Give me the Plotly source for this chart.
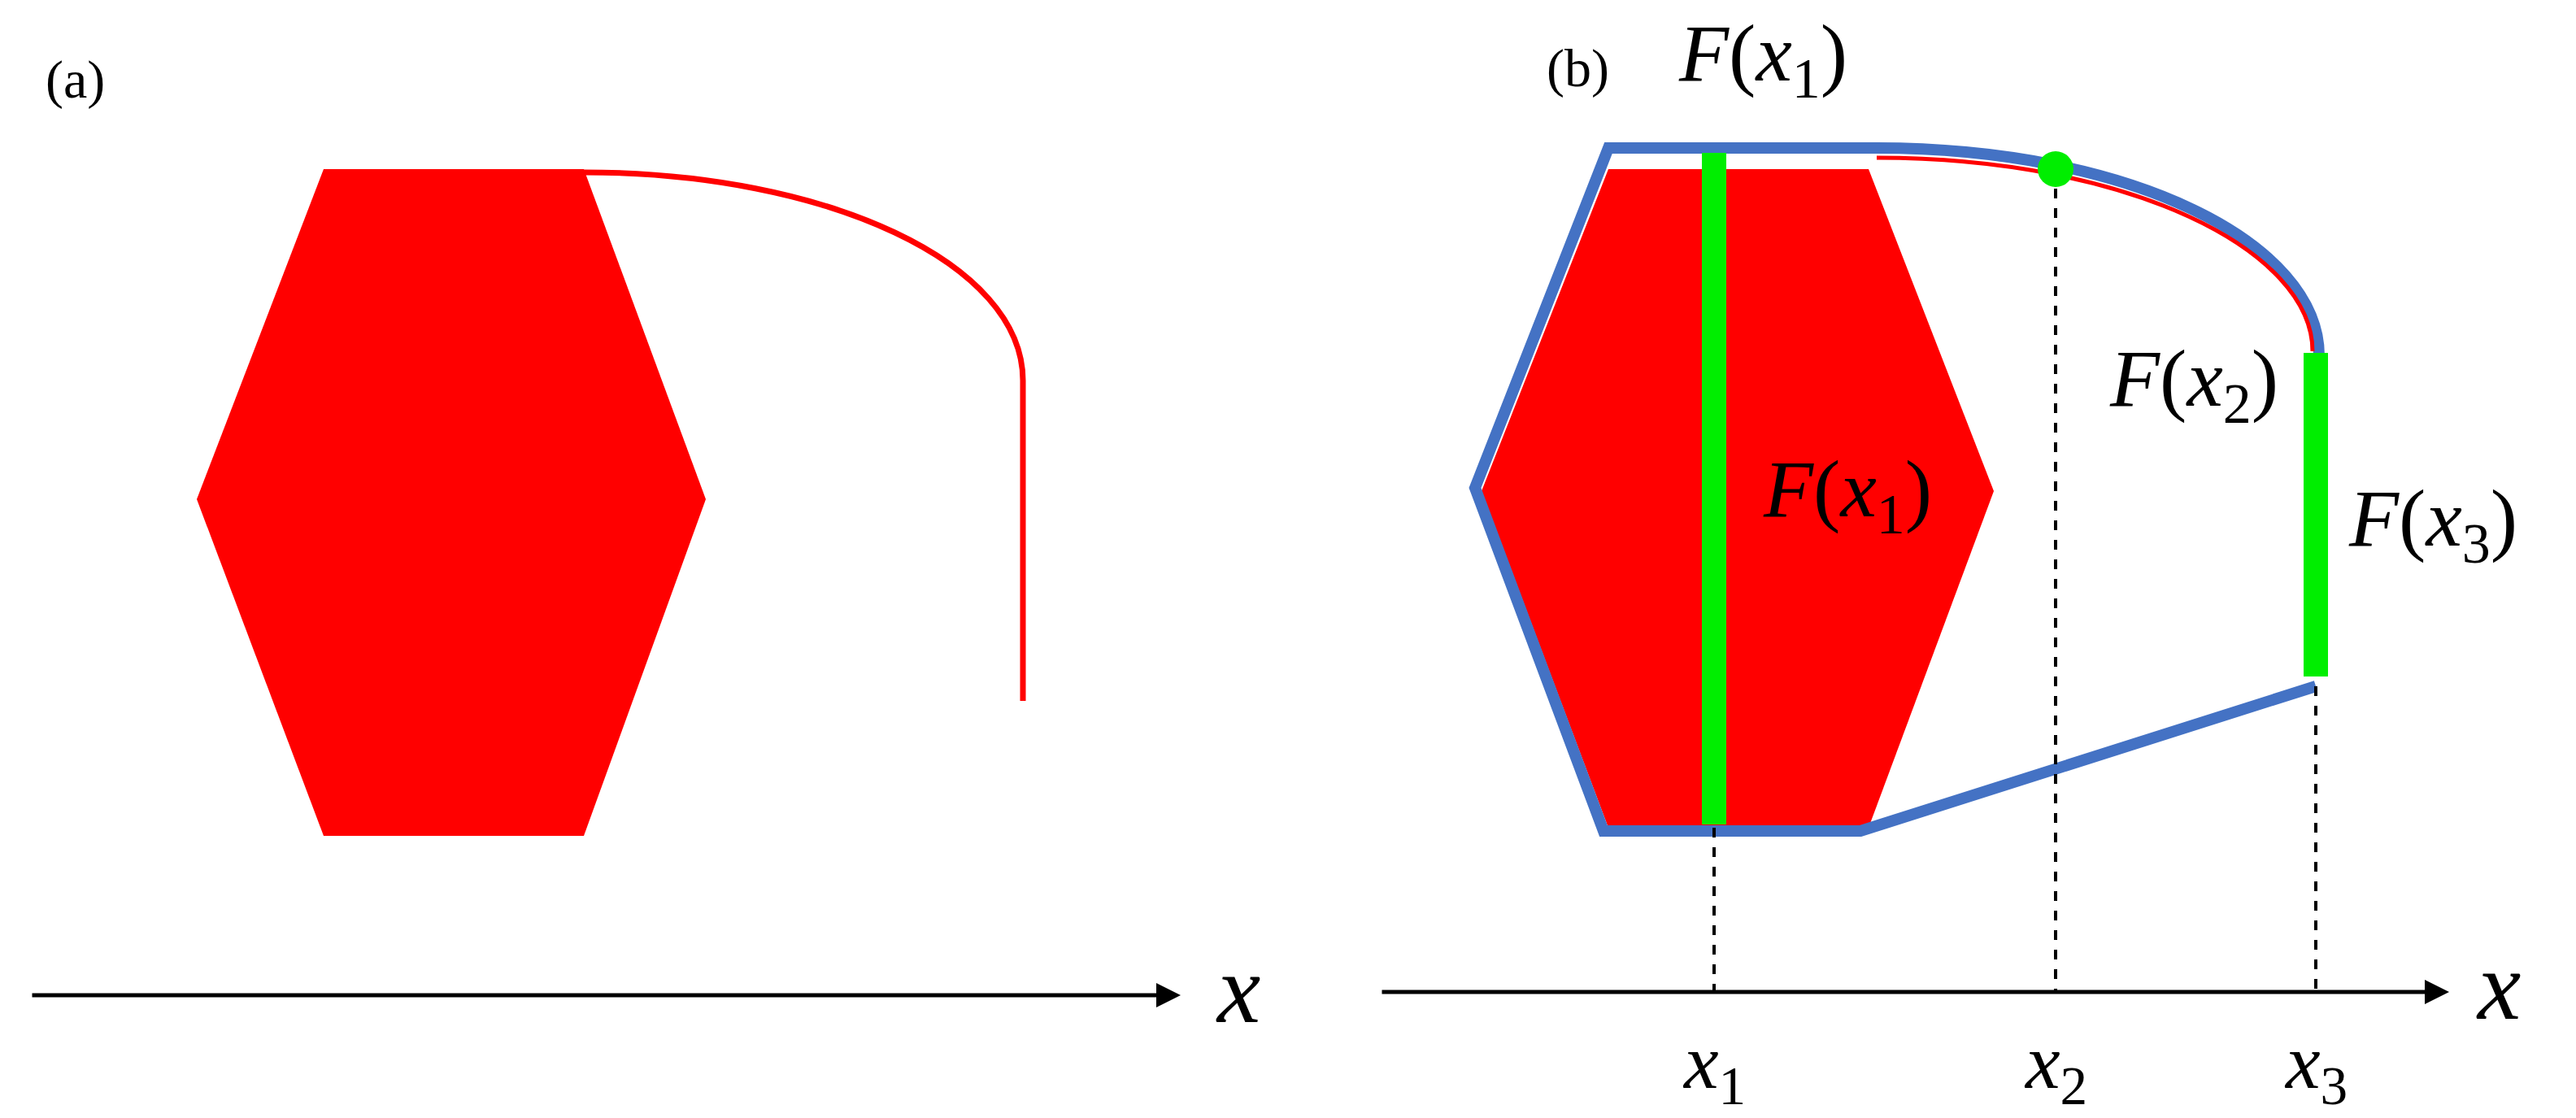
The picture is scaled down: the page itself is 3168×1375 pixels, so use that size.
import plotly.graph_objects as go

W, H = 3168, 1375
# panel (a)
hex_a_x = [195, 355, 430, 355, 195, 117, 195]
hex_a_y = [100, 100, 303, 510, 510, 303, 100]
curve_a = "M 355,102 C 505,102 625,158 625,230 L 625,427"
axis_a = (15, 722, 608)
# panel (b)
hex_b_x = [985, 1145, 1222, 1145, 985, 907, 985]
hex_b_y = [100, 100, 298, 505, 505, 298, 100]
curve_b_red = "M 1150,93 C 1305,93 1418,150 1418,212"
blue_path = "M 1420,418 L 1140,507 L 982,507 L 903,296 L 985,87 L 1150,87 C 1305,87 1422,145 1422,215"
green_bar1 = (1050, 90, 503)
green_bar2 = (1420, 213, 412)
dot = (1260, 100)
dashes = [(1050, 505, 605), (1260, 100, 605), (1420, 418, 605)]
axis_b = (845, 1502, 606)
tick_labels = [("<i>x</i><sub>1</sub>", 1050), ("<i>x</i><sub>2</sub>", 1260), ("<i>x</i><sub>3</sub>", 1420)]
F_labels = [("<i>F</i>(<i>x</i><sub>1</sub>)", 1080, 32), ("<i>F</i>(<i>x</i><sub>1</sub>)", 1132, 300),
            ("<i>F</i>(<i>x</i><sub>2</sub>)", 1345, 232), ("<i>F</i>(<i>x</i><sub>3</sub>)", 1492, 318)]

FONT = "Liberation Serif, Times New Roman, serif"
fig = go.Figure()
fig.add_trace(go.Scatter(x=hex_a_x, y=hex_a_y, fill="toself", fillcolor="#ff0000", mode="none", hoverinfo="skip"))
fig.add_trace(go.Scatter(x=hex_b_x, y=hex_b_y, fill="toself", fillcolor="#ff0000", mode="none", hoverinfo="skip"))

shapes = [
    dict(type="path", path=curve_a, line=dict(color="#ff0000", width=7)),
    dict(type="path", path=blue_path, line=dict(color="#4472c4", width=14)),
    dict(type="path", path=curve_b_red, line=dict(color="#ff0000", width=5)),
]
for (x, y0, y1) in dashes:
    shapes.append(dict(type="line", x0=x, x1=x, y0=y0, y1=y1, line=dict(color="black", width=4, dash="dash")))
for (x, y0, y1) in [green_bar1, green_bar2]:
    shapes.append(dict(type="line", x0=x, x1=x, y0=y0, y1=y1, line=dict(color="#00ee00", width=30)))
shapes.append(dict(type="circle", x0=dot[0]-11, x1=dot[0]+11, y0=dot[1]-11, y1=dot[1]+11,
                   fillcolor="#00ee00", line=dict(width=0)))

ann = []
for (x0, x1, y) in [axis_a, axis_b]:
    ann.append(dict(x=x1, y=y, ax=x0, ay=y, xref="x", yref="y", axref="x", ayref="y", text="",
                    showarrow=True, arrowhead=2, arrowsize=1.2, arrowwidth=5, arrowcolor="black"))
ann.append(dict(x=757, y=604, text="<i>x</i>", showarrow=False, font=dict(size=120, family=FONT, color="black")))
ann.append(dict(x=1532, y=602, text="<i>x</i>", showarrow=False, font=dict(size=120, family=FONT, color="black")))
for t, x in tick_labels:
    ann.append(dict(x=x, y=652, text=t, showarrow=False, font=dict(size=96, family=FONT, color="black")))
for t, x, y in F_labels:
    ann.append(dict(x=x, y=y, text=t, showarrow=False, font=dict(size=100, family=FONT, color="black")))
ann.append(dict(x=42, y=45, text="(a)", showarrow=False, font=dict(size=66, family=FONT, color="black")))
ann.append(dict(x=966, y=38, text="(b)", showarrow=False, font=dict(size=66, family=FONT, color="black")))

fig.update_layout(width=W, height=H, margin=dict(l=0, r=0, t=0, b=0), showlegend=False,
                  plot_bgcolor="white", paper_bgcolor="white", shapes=shapes, annotations=ann,
                  xaxis=dict(range=[0, 1584], visible=False, fixedrange=True),
                  yaxis=dict(range=[687.5, 0], visible=False, fixedrange=True))
fig.write_html("out.html")
